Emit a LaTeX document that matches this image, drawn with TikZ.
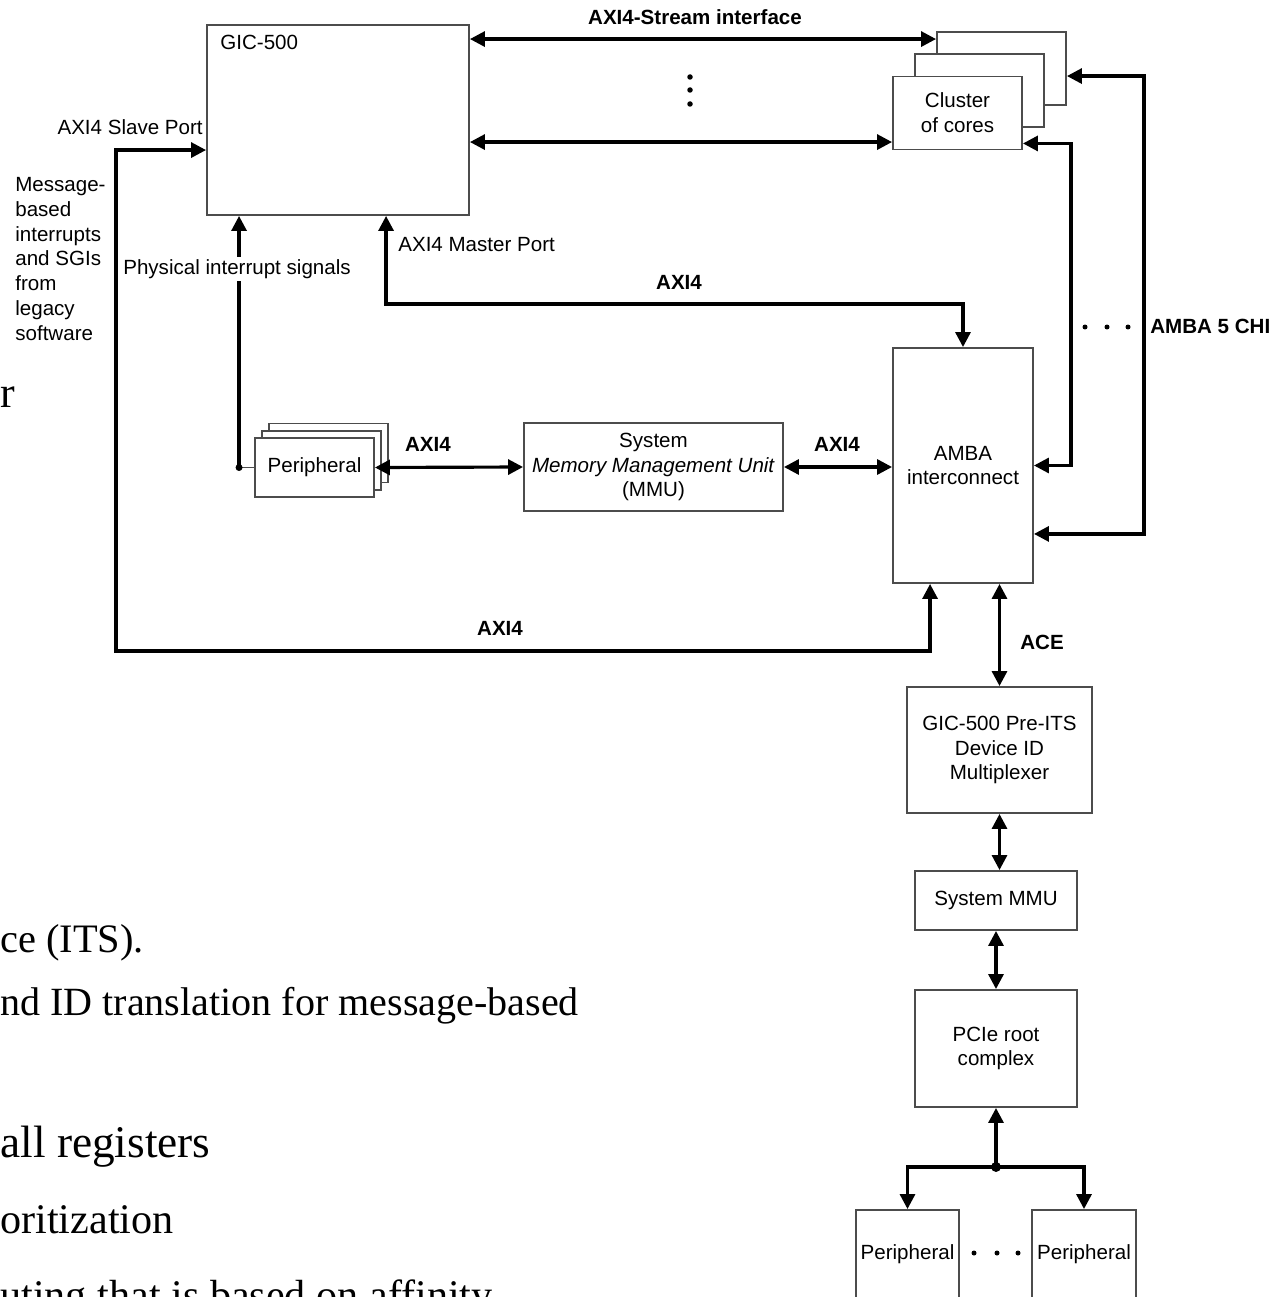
\documentclass[tikz,border=0pt]{standalone}
\usepackage{fontspec}
\setmainfont{Liberation Sans}
\newfontfamily\slidefont{Liberation Serif}
\usetikzlibrary{arrows.meta,calc}

\begin{document}
\begin{tikzpicture}[x=0.02cm, y=-0.02cm,
    block/.style={draw=black!70, line width=1.1pt, fill=white, rectangle, inner sep=0pt, align=center, font=\fontsize{11.7}{14.1}\selectfont},
    wire/.style={line width=1.8pt, {Triangle[length=0.3cm,width=0.3cm]}-{Triangle[length=0.3cm,width=0.3cm]}},
    wireto/.style={line width=1.8pt, -{Triangle[length=0.3cm,width=0.3cm]}},
    lbl/.style={inner sep=0pt, font=\fontsize{11.7}{14.1}\selectfont},
    blbl/.style={inner sep=0pt, font=\fontsize{11.7}{14.1}\selectfont\bfseries},
    slide/.style={inner sep=0pt, anchor=base west}]
        \clip (0,0) rectangle (1273,1297);

        \node (sr) at (0,407) [slide, font=\slidefont\fontsize{25}{30}\selectfont] {r};
        \node (st1) at (0,952) [slide, font=\slidefont\fontsize{23}{30}\selectfont] {ce (ITS).};
        \node (st2) at (0,1015) [slide, font=\slidefont\fontsize{22.8}{26}\selectfont] {nd ID translation for message-based};
        \node (st3) at (0,1157) [slide, font=\slidefont\fontsize{25.8}{30}\selectfont] {all registers};
        \node (st4) at (0,1233) [slide, font=\slidefont\fontsize{24}{30}\selectfont] {oritization};
        \node (st5) at (0,1309) [slide, font=\slidefont\fontsize{24}{30}\selectfont] {uting that is based on affinity};

        \node (gic) at (338,120) [block, minimum width=5.24cm, minimum height=3.8cm] {};
        \node (gicname) at ($(gic.north west)+(14,25)$) [lbl, anchor=base west] {GIC-500};

        \node (cl3) at (1001.5,68.5) [block, minimum width=2.58cm, minimum height=1.46cm] {};
        \node (cl2) at (979.5,90.5) [block, minimum width=2.58cm, minimum height=1.46cm] {};
        \node (cl1) at (957.5,113) [block, minimum width=2.58cm, minimum height=1.46cm] {Cluster\\of cores};

        \node (amba) at (963,465.5) [block, minimum width=2.8cm, minimum height=4.7cm] {AMBA\\interconnect};
        \node (smmu) at (653.5,467) [block, minimum width=5.18cm, minimum height=1.76cm] {System\\\textit{Memory Management Unit}\\(MMU)};

        \node (per3) at (328.5,453) [block, minimum width=2.38cm, minimum height=1.18cm] {};
        \node (per2) at (321.5,460.5) [block, minimum width=2.38cm, minimum height=1.18cm] {};
        \node (per1) at (314.5,467.5) [block, minimum width=2.38cm, minimum height=1.18cm] {Peripheral};

        \node (preits) at (999.5,750) [block, minimum width=3.7cm, minimum height=2.52cm] {GIC-500 Pre-ITS\\Device ID\\Multiplexer};
        \node (sysmmu) at (996,900.5) [block, minimum width=3.24cm, minimum height=1.18cm] {System MMU};
        \node (pcie) at (996,1048.5) [block, minimum width=3.24cm, minimum height=2.34cm] {PCIe root\\complex};
        \node (perl) at (907.5,1259) [block, anchor=base, minimum width=2.06cm, text height=0.98cm, text depth=2cm] {Peripheral};
        \node (perr) at (1084,1259) [block, anchor=base, minimum width=2.08cm, text height=0.98cm, text depth=2cm] {Peripheral};

        \coordinate (s1) at ($(gic.north east)+(0,15)$);
        \coordinate (s2) at ($(gic.north east)+(0,118)$);
        \coordinate (pdot) at ($(per1.west)+(-15,0)$);
        \coordinate (pcdot) at ($(pcie.south)+(0,59)$);
        \coordinate (slv) at (116,651);

        \draw[wire] (s1) -- (s1 -| cl3.west);
        \draw[wire] (s2) -- (s2 -| cl1.west);
        \foreach \y in {77,90,104}
            \fill (690,\y) circle[radius=0.055cm];
        \node (axis) at (695,17) [blbl] {AXI4-Stream interface};

        \draw[wire] ($(cl3.north east)+(0,45)$) -- ++(77,0) |- ($(amba.south east)+(0,-50)$);
        \draw[wire] ($(cl1.south east)+(0,-7)$) -- ++(48,0) |- (amba.east);
        \foreach \x in {1085,1107,1128}
            \fill (\x,327) circle[radius=0.05cm];
        \node (chi) at (1150,326) [blbl, anchor=west] {AMBA 5 CHI};

        \draw[wire] ($(gic.south west)+(180,0)$) |- ($(amba.north)+(0,-43)$) -- (amba.north);
        \node (mport) at (398,245) [lbl, anchor=west] {AXI4 Master Port};
        \node (axm) at (679,282) [blbl] {AXI4};

        \draw[line width=1.1pt, black!70] (pdot) -- (per1.west);
        \draw[wireto] (pdot) -- (pdot |- gic.south);
        \fill (pdot) circle[radius=0.07cm];
        \node (phys) at (237,269) [lbl, fill=white, inner sep=1.5pt] {Physical interrupt signals};

        \draw[wire] (per1.east) -- (smmu.west);
        \node (axp) at (428,444) [blbl] {AXI4};
        \draw[wire] (smmu.east) -- (smmu.east -| amba.west);
        \node (axa) at (837,444) [blbl] {AXI4};

        \draw[wire] ($(amba.south west)+(38,0)$) |- (slv) |- ($(gic.north west)+(0,126)$);
        \node (sport) at (203,127) [lbl, anchor=east] {AXI4 Slave Port};
        \node (axs) at (500,628) [blbl] {AXI4};
        \node (msg) at (15,177) [lbl, anchor=north west, align=left] {Message-\\based\\interrupts\\and SGIs\\from\\legacy\\software};

        \draw[wire] (amba.south -| preits.north) -- (preits.north);
        \node (ace) at (1042,642) [blbl] {ACE};
        \draw[wire] (preits.south) -- (preits.south |- sysmmu.north);
        \draw[wire] (sysmmu.south) -- (pcie.north);

        \draw[wireto] (pcdot) -- (pcie.south);
        \draw[wireto] (pcdot) -| (perl.north);
        \draw[wireto] (pcdot) -| (perr.north);
        \fill (pcdot) circle[radius=0.1cm];
        \foreach \x in {974,997,1018}
            \fill (\x,1253) circle[radius=0.05cm];
    \end{tikzpicture}
\end{document}
